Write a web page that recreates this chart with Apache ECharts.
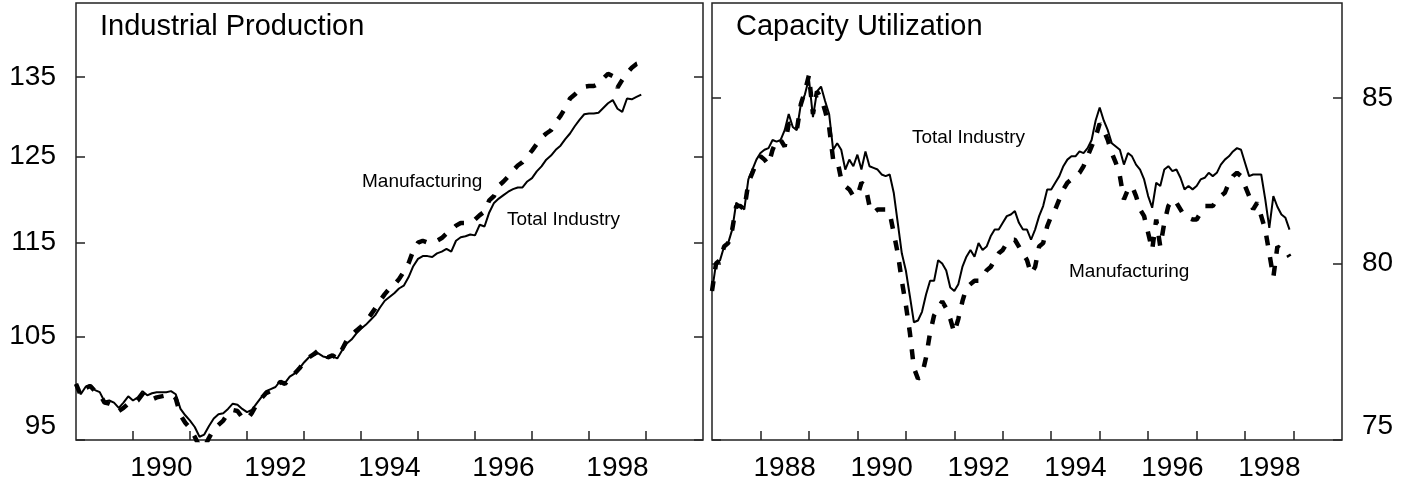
<!DOCTYPE html>
<html>
<head>
<meta charset="utf-8">
<title>Industrial Production and Capacity Utilization</title>
<script src="https://cdn.jsdelivr.net/npm/echarts@6/dist/echarts.min.js"></script>
<style>
html, body { margin: 0; padding: 0; background: #fff; }
#main { width: 1406px; height: 485px; }
</style>
</head>
<body>
<div id="main"></div>
<script>
// monthly index values, Jan 1989 - Dec 1998 (1992=100)
var ipTotal = [
	100.3, 99.3, 100.0, 100.2, 99.7, 99.5, 98.6, 98.7, 98.5, 98.0, 98.5, 99.1,
	98.7, 99.0, 99.6, 99.2, 99.4, 99.5, 99.5, 99.5, 99.6, 99.3, 97.9, 97.3,
	96.8, 96.2, 95.3, 95.5, 96.3, 97.0, 97.4, 97.5, 97.9, 98.4, 98.3, 97.9,
	97.6, 97.8, 98.4, 99.0, 99.6, 99.8, 100.0, 100.6, 100.4, 101.0, 101.3, 101.8,
	102.4, 102.9, 103.1, 103.3, 103.0, 102.9, 103.0, 102.8, 103.6, 104.3, 104.7, 105.3,
	105.8, 106.2, 106.7, 107.2, 108.0, 108.7, 109.1, 109.5, 110.0, 110.3, 111.2, 112.4,
	113.2, 113.5, 113.5, 113.4, 113.8, 114.0, 114.3, 114.0, 115.2, 115.6, 115.7, 115.9,
	115.8, 117.0, 116.8, 118.4, 119.5, 120.0, 120.4, 120.8, 121.1, 121.3, 121.3, 122.0,
	122.4, 123.2, 123.8, 124.6, 125.1, 125.8, 126.3, 127.1, 127.8, 128.7, 129.5, 130.2,
	130.3, 130.3, 130.4, 131.0, 131.6, 132.0, 130.9, 130.5, 132.2, 132.1, 132.4, 132.7
];
var ipManuf = [
	100.3, 99.2, 99.9, 100.1, 99.6, 99.3, 98.5, 98.4, 98.2, 97.7, 98.0, 98.4,
	98.4, 98.7, 99.3, 98.8, 98.8, 99.0, 99.1, 99.2, 99.3, 98.9, 97.3, 96.6,
	96.1, 95.3, 94.4, 94.3, 95.2, 96.0, 96.4, 96.8, 97.5, 97.8, 97.7, 97.1,
	96.9, 97.5, 98.3, 98.9, 99.4, 99.6, 99.9, 100.5, 100.3, 100.9, 101.3, 101.8,
	102.4, 102.9, 103.2, 103.6, 103.5, 102.9, 103.1, 102.8, 103.7, 104.6, 105.1, 105.6,
	106.0, 106.6, 107.2, 107.9, 108.7, 109.4, 110.0, 110.4, 111.0, 111.8, 112.7, 114.1,
	115.0, 115.2, 115.0, 115.1, 115.2, 115.5, 116.0, 116.4, 116.9, 117.2, 117.2, 117.3,
	117.6, 118.1, 118.5, 119.8, 120.3, 121.5, 122.0, 122.6, 123.3, 123.9, 124.3, 125.0,
	125.7, 126.5, 127.3, 127.8, 128.2, 129.2, 130.0, 131.0, 132.2, 132.7, 133.3, 133.7,
	133.8, 133.8, 134.1, 134.8, 135.4, 135.1, 133.6, 134.6, 135.5, 136.2, 136.7, 136.9
];
// monthly capacity utilization (percent), Jan 1987 - Dec 1998
var cuTotal = [
	79.2, 80.0, 80.1, 80.5, 80.6, 81.0, 81.8, 81.7, 81.6, 82.5, 82.8, 83.1,
	83.3, 83.4, 83.45, 83.7, 83.65, 83.7, 84.0, 84.5, 84.1, 84.0, 84.8, 85.1,
	85.6, 84.4, 85.2, 85.35, 84.9, 84.5, 83.4, 83.6, 83.4, 82.8, 83.1, 82.9,
	83.25, 82.8, 83.35, 82.9, 82.85, 82.8, 82.65, 82.6, 82.65, 82.1, 81.2, 80.3,
	79.8, 79.05, 78.3, 78.35, 78.6, 79.1, 79.5, 79.5, 80.1, 80.0, 79.8, 79.3,
	79.2, 79.4, 79.9, 80.2, 80.4, 80.2, 80.6, 80.4, 80.5, 80.8, 81.0, 81.0,
	81.2, 81.4, 81.45, 81.55, 81.2, 81.0, 81.0, 80.7, 81.0, 81.4, 81.7, 82.2,
	82.2, 82.4, 82.6, 82.9, 83.1, 83.2, 83.2, 83.35, 83.3, 83.45, 83.7, 84.3,
	84.7, 84.3, 84.0, 83.6, 83.5, 83.4, 82.95, 83.3, 83.2, 82.95, 82.8, 82.5,
	82.0, 81.65, 82.4, 82.3, 82.8, 82.9, 82.75, 82.8, 82.55, 82.2, 82.3, 82.2,
	82.3, 82.5, 82.55, 82.7, 82.6, 82.7, 82.95, 83.1, 83.2, 83.35, 83.45, 83.4,
	83.0, 82.6, 82.65, 82.65, 82.65, 81.9, 81.05, 82.0, 81.68, 81.45, 81.35, 81.0
];
var cuManuf = [
	79.2, 80.0, 80.1, 80.5, 80.6, 81.0, 81.7, 81.7, 81.6, 82.4, 82.7, 83.0,
	83.2, 83.1, 82.95, 83.4, 83.7, 83.7, 83.5, 84.2, 84.2, 84.0, 84.8, 85.2,
	85.7, 84.5, 85.2, 85.0, 84.6, 84.1, 83.1, 83.1, 82.5, 82.3, 82.2, 82.0,
	82.0, 82.4, 82.3, 81.7, 81.5, 81.6, 81.6, 81.6, 81.5, 80.9, 80.3, 79.5,
	78.8, 78.0, 77.0, 76.7, 76.8, 77.3, 78.0, 78.5, 78.7, 78.9, 78.7, 78.4,
	78.0, 78.4, 78.9, 79.3, 79.4, 79.5, 79.5, 79.6, 79.8, 79.9, 80.1, 80.3,
	80.4, 80.6, 80.7, 80.7, 80.5, 80.3, 80.1, 79.7, 79.9, 80.5, 80.6, 81.1,
	81.4, 81.6, 81.9, 82.2, 82.4, 82.5, 82.6, 82.7, 82.9, 83.2, 83.5, 83.8,
	84.2, 84.0, 83.7, 83.3, 83.0, 82.6, 81.9, 82.2, 82.3, 82.0, 81.6, 81.4,
	80.9, 80.4, 81.3, 80.5, 81.2, 81.7, 81.9, 81.8, 81.6, 81.4, 81.35, 81.3,
	81.3, 81.5, 81.7, 81.7, 81.7, 81.9, 82.0, 82.1, 82.4, 82.6, 82.7, 82.6,
	82.3, 82.0, 81.6, 81.8, 81.4, 81.0, 80.3, 79.6, 80.5, 80.4, 80.4, 80.2
];

var ipStart = 1989;
var cuStart = 1987;
var ipTicks = [95, 105, 115, 125, 135];
var cuTicks = [75, 80, 85];
var ipYearLabels = [1990, 1992, 1994, 1996, 1998];
var cuYearLabels = [1988, 1990, 1992, 1994, 1996, 1998];
var ipYearTicks = [1990, 1991, 1992, 1993, 1994, 1995, 1996, 1997, 1998, 1999];
var cuYearTicks = [1988, 1989, 1990, 1991, 1992, 1993, 1994, 1995, 1996, 1997, 1998, 1999];

var FONT = '"Liberation Sans", Arial, sans-serif';
var INK = '#000';
var AXIS = '#222';

// both panels use a ratio (log) scale: plot ln(value) on a value axis
function toPoints(start, vals) {
	var out = [];
	for (var i = 0; i < vals.length; i++) {
		out.push([start + i / 12, Math.log(vals[i])]);
	}
	return out;
}
function logs(arr) {
	return arr.map(function (v) { return Math.log(v); });
}
// year labels sit in the middle of each year
function mid(arr) {
	return arr.map(function (y) { return y + 0.5; });
}

function xAxisFor(grid, min, max, ticks, labels) {
	return {
		type: 'value', gridIndex: grid, min: min, max: max, interval: 1,
		axisLine: { show: false },
		splitLine: { show: false },
		axisTick: { inside: true, length: 9, customValues: ticks, lineStyle: { color: AXIS, width: 1.5 } },
		axisLabel: {
			customValues: mid(labels), margin: 14,
			fontSize: 28, fontFamily: FONT, color: INK,
			formatter: function (v) { return String(Math.floor(v)); }
		}
	};
}
function yAxisFor(grid, pos, lo, hi, ticks, showLabel) {
	return {
		type: 'value', gridIndex: grid, position: pos,
		min: Math.log(lo), max: Math.log(hi),
		axisLine: { show: false },
		splitLine: { show: false },
		axisTick: { inside: true, length: 9, customValues: logs(ticks), lineStyle: { color: AXIS, width: 1.5 } },
		axisLabel: {
			show: showLabel, customValues: logs(ticks), margin: 20,
			fontSize: 28, fontFamily: FONT, color: INK,
			verticalAlignMinLabel: 'bottom',
			formatter: function (v) { return String(Math.round(Math.exp(v))); }
		}
	};
}
function lineSeries(xi, yi, pts, dashed) {
	return {
		type: 'line', xAxisIndex: xi, yAxisIndex: yi, data: pts,
		symbol: 'none', showSymbol: false, silent: true, clip: true,
		lineStyle: dashed ? { color: INK, width: 4.5, type: [10, 12], cap: 'butt' } : { color: INK, width: 2 }
	};
}
function label(text, x, y, size) {
	return { type: 'text', left: x, top: y, silent: true,
		style: { text: text, fontSize: size, fontFamily: FONT, fill: INK } };
}

var myChart = echarts.init(document.getElementById('main'));
var option = {
	animation: false,
	backgroundColor: '#fff',
	grid: [
		{ left: 76, right: 703, top: 3, bottom: 45, show: true, borderColor: AXIS, borderWidth: 1.5 },
		{ left: 712, right: 64, top: 3, bottom: 45, show: true, borderColor: AXIS, borderWidth: 1.5 }
	],
	xAxis: [
		xAxisFor(0, ipStart, 2000, ipYearTicks, ipYearLabels),
		xAxisFor(1, cuStart, 2000, cuYearTicks, cuYearLabels)
	],
	yAxis: [
		yAxisFor(0, 'left', 95, 145, ipTicks, true),
		yAxisFor(0, 'right', 95, 145, ipTicks, false),
		yAxisFor(1, 'left', 75, 88, cuTicks, false),
		yAxisFor(1, 'right', 75, 88, cuTicks, true)
	],
	series: [
		lineSeries(0, 0, toPoints(ipStart, ipManuf), true),
		lineSeries(0, 0, toPoints(ipStart, ipTotal), false),
		lineSeries(1, 3, toPoints(cuStart, cuManuf), true),
		lineSeries(1, 3, toPoints(cuStart, cuTotal), false)
	],
	graphic: [
		label('Industrial Production', 100, 12, 29),
		label('Capacity Utilization', 736, 12, 29),
		label('Manufacturing', 362, 172, 19),
		label('Total Industry', 507, 210, 19),
		label('Total Industry', 912, 128, 19),
		label('Manufacturing', 1069, 262, 19)
	]
};
myChart.setOption(option);
</script>
</body>
</html>
